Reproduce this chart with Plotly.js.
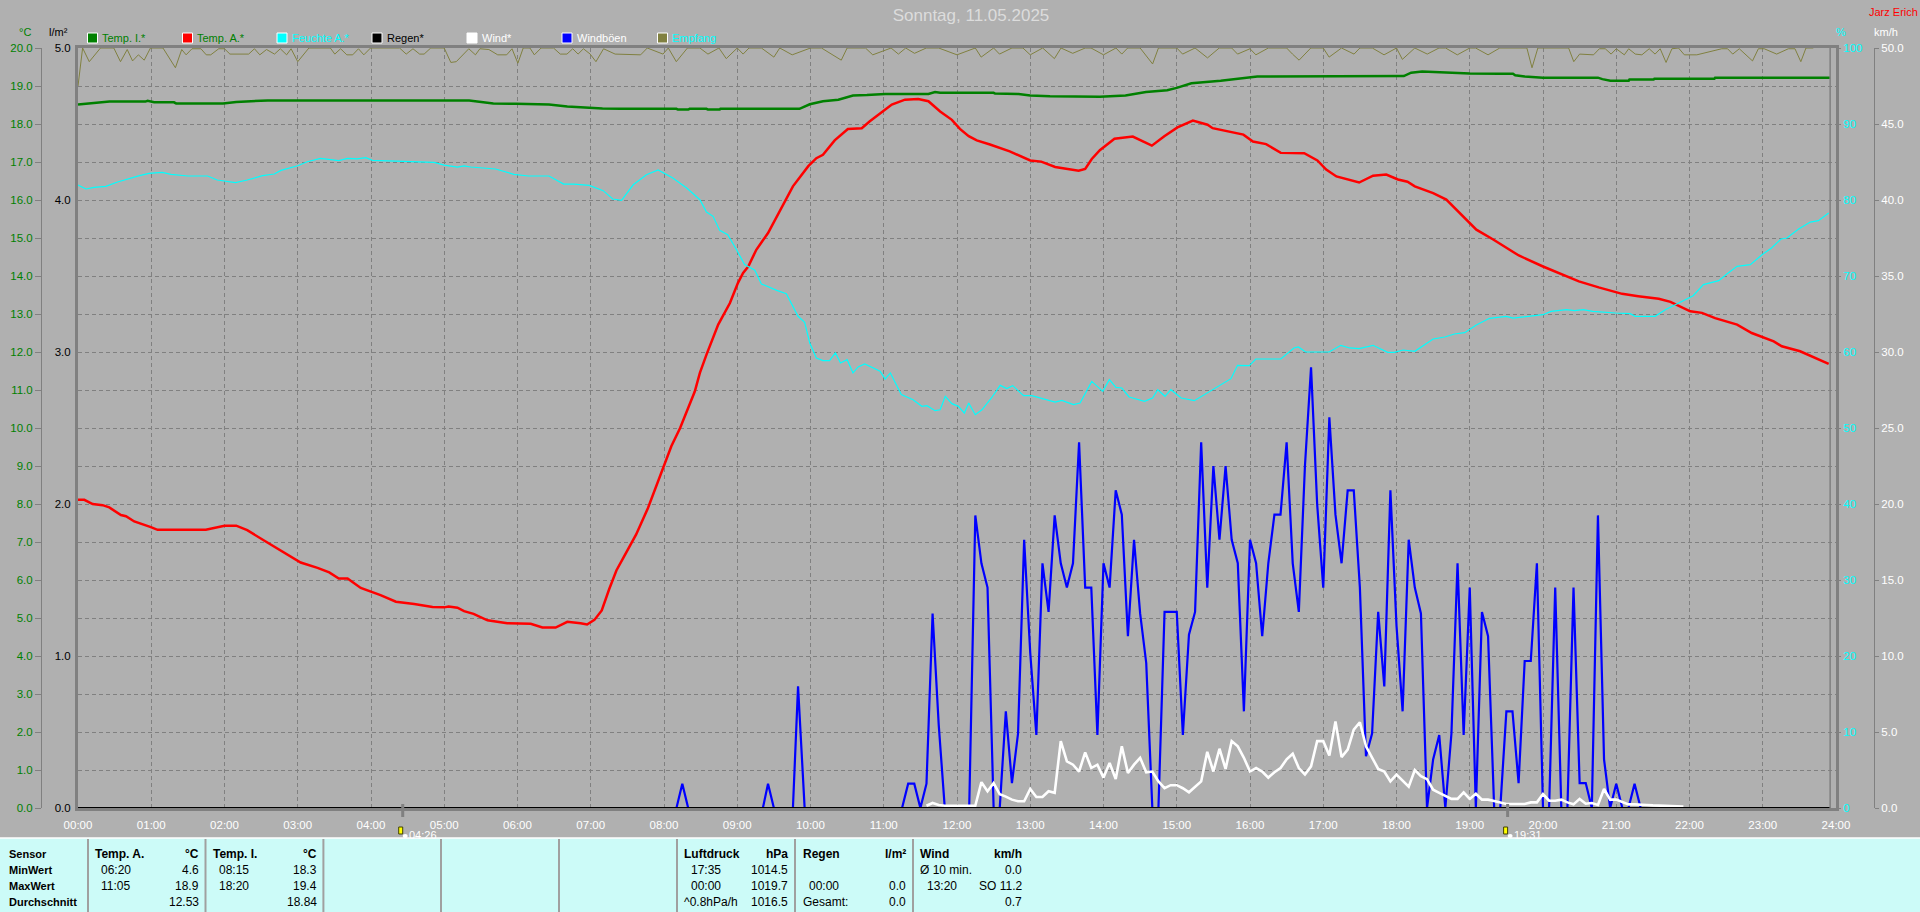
<!DOCTYPE html>
<html><head><meta charset="utf-8">
<script src="https://cdn.plot.ly/plotly-3.0.1.min.js"></script>
<style>html,body{margin:0;padding:0;background:#b0b0b0;overflow:hidden}#c{width:1920px;height:912px}</style>
</head><body><div id="c"></div>
<script>
// ---------- DATA; hours since midnight ----------
const hourLabels = ["00:00","01:00","02:00","03:00","04:00","05:00","06:00","07:00","08:00","09:00","10:00","11:00","12:00","13:00","14:00","15:00","16:00","17:00","18:00","19:00","20:00","21:00","22:00","23:00","24:00"];

const tempIHours = [0,.09,.25,.43,.92,.95,1.04,1.31,1.34,1.98,2.16,2.59,5.34,5.49,5.67,5.98,6.43,6.68,6.86,7.16,7.4,8.17,8.19,8.33,8.35,8.58,8.6,8.76,8.77,9.85,9.99,10.17,10.38,10.58,10.77,11.02,11.61,11.7,11.77,12.5,12.52,12.84,13,13.27,13.95,14.3,14.58,14.87,15,15.2,15.6,15.9,16.1,18.1,18.2,18.35,18.7,19,19.4,19.59,19.62,19.75,20,20.75,20.81,20.92,21.17,21.18,21.51,21.52,22.34,22.35,23.92];
const tempIValues = [18.51,18.53,18.56,18.59,18.59,18.61,18.57,18.57,18.54,18.54,18.58,18.62,18.62,18.58,18.54,18.53,18.51,18.46,18.44,18.41,18.4,18.4,18.38,18.38,18.4,18.4,18.38,18.38,18.4,18.4,18.52,18.6,18.64,18.75,18.76,18.79,18.79,18.84,18.82,18.82,18.8,18.79,18.75,18.73,18.72,18.75,18.84,18.89,18.95,19.07,19.14,19.2,19.25,19.26,19.35,19.38,19.35,19.33,19.32,19.32,19.28,19.25,19.22,19.22,19.18,19.14,19.14,19.17,19.17,19.19,19.19,19.22,19.22];

const tempAHours = [0,.086,.2,.336,.427,.586,.655,.768,.995,1.086,1.745,1.88,2,2.16,2.31,2.54,2.77,2.88,3.04,3.27,3.43,3.56,3.68,3.86,4.13,4.34,4.59,4.84,5,5.06,5.18,5.27,5.4,5.59,5.86,6.18,6.34,6.52,6.68,6.86,6.95,7.05,7.15,7.25,7.35,7.45,7.62,7.78,7.9,8,8.1,8.22,8.31,8.42,8.49,8.58,8.74,8.9,9.01,9.08,9.15,9.26,9.42,9.58,9.76,9.97,10.08,10.17,10.33,10.51,10.7,10.81,10.99,11.11,11.29,11.47,11.61,11.77,11.93,12.04,12.16,12.27,12.45,12.56,12.72,13,13.15,13.34,13.5,13.66,13.75,13.84,13.95,14.15,14.4,14.66,14.83,15.01,15.22,15.42,15.49,15.76,15.91,16.04,16.22,16.42,16.74,16.92,17.04,17.18,17.49,17.68,17.86,18.02,18.15,18.25,18.5,18.68,18.84,19.09,19.32,19.67,20,20.21,20.49,20.76,21.08,21.3,21.58,21.74,22.01,22.17,22.35,22.65,22.85,23.15,23.26,23.51,23.71,23.9];
const tempAValues = [8.11,8.11,8,7.97,7.91,7.71,7.68,7.54,7.39,7.32,7.32,7.37,7.43,7.43,7.31,7.04,6.77,6.64,6.46,6.32,6.2,6.04,6.04,5.79,5.6,5.43,5.37,5.29,5.28,5.3,5.27,5.18,5.11,4.94,4.86,4.85,4.75,4.75,4.9,4.86,4.83,4.95,5.2,5.75,6.25,6.6,7.2,7.89,8.51,9.04,9.52,10,10.44,10.96,11.45,11.93,12.72,13.29,13.82,14.08,14.25,14.69,15.13,15.7,16.36,16.89,17.1,17.19,17.57,17.87,17.89,18.07,18.33,18.51,18.64,18.66,18.6,18.33,18.11,17.87,17.68,17.57,17.46,17.39,17.28,17.04,17.01,16.87,16.82,16.77,16.82,17.08,17.31,17.61,17.67,17.43,17.68,17.91,18.09,17.98,17.89,17.78,17.72,17.54,17.47,17.24,17.23,17.04,16.8,16.62,16.46,16.64,16.67,16.54,16.48,16.36,16.18,16.01,15.7,15.22,14.96,14.54,14.25,14.08,13.86,13.7,13.53,13.47,13.4,13.32,13.07,13.03,12.89,12.72,12.5,12.28,12.15,12.02,11.84,11.69];

const humidityHours = [0,.11,.22,.38,.54,.68,.84,.97,1.15,1.27,1.5,1.77,1.9,2.15,2.31,2.52,2.68,2.77,3,3.13,3.31,3.56,3.68,3.81,3.93,4.02,4.86,5,5.18,5.27,5.36,5.7,5.86,5.95,6.15,6.43,6.63,6.77,6.98,7.17,7.3,7.42,7.58,7.76,7.92,8.12,8.31,8.49,8.58,8.67,8.76,8.87,8.99,9.1,9.24,9.33,9.54,9.67,9.83,9.92,9.99,10.08,10.17,10.26,10.34,10.41,10.5,10.58,10.65,10.74,10.95,11.02,11.09,11.24,11.4,11.52,11.59,11.7,11.77,11.84,11.93,12.02,12.1,12.16,12.25,12.34,12.47,12.59,12.68,12.76,12.91,13.02,13.34,13.43,13.59,13.68,13.84,13.99,14.08,14.17,14.25,14.35,14.56,14.67,14.74,14.84,14.92,15.06,15.24,15.45,15.74,15.83,15.99,16.08,16.42,16.6,16.66,16.76,17.08,17.24,17.36,17.49,17.68,17.88,17.97,18.09,18.25,18.5,18.66,18.79,18.93,19.09,19.27,19.5,19.59,20,20.11,20.32,20.43,20.55,20.68,20.99,21.19,21.26,21.53,21.67,21.76,22.05,22.19,22.4,22.51,22.65,22.83,22.99,23.12,23.25,23.33,23.49,23.65,23.76,23.9];
const humidityValues = [81.97,81.45,81.67,81.8,82.37,82.8,83.2,83.5,83.64,83.38,83.16,83.16,82.63,82.28,82.63,83.2,83.42,83.9,84.5,85.04,85.48,85.18,85.48,85.4,85.57,85.22,84.96,84.6,84.34,84.5,84.34,84.08,83.64,83.38,83.16,83.16,82.1,82.1,81.93,81.23,80.13,79.96,82,83.33,83.95,82.9,81.58,80.04,78.42,77.85,76,75.44,73.46,71.5,70.75,68.95,68.11,67.68,64.7,63.9,61.18,59.2,58.86,58.86,59.87,58.55,58.99,57.24,58.03,58.42,57.46,56.45,57.24,54.39,53.73,52.85,52.94,52.28,52.4,54.17,53.2,52.85,51.97,53.29,51.75,52.4,53.95,55.61,55.18,55.57,54.25,54.25,53.42,53.64,53.07,53.29,56.14,54.82,56.36,55.35,55.26,54.08,53.51,53.95,55.04,54.17,55.04,53.95,53.6,54.82,56.49,58.25,58.2,59.08,59.08,60.53,60.66,60,60,60.88,60.53,60.44,60.88,59.96,59.96,60.26,60.09,61.71,61.97,62.37,62.54,63.55,64.43,64.69,64.47,64.91,65.35,65.57,65.44,65.57,65.35,65.13,65.04,64.69,64.69,65.57,66,67.41,68.86,69.39,70.26,71.27,71.49,72.8,73.68,74.87,75,76.18,77.1,77.28,78.29];

const receptionHours = [0,.063,.154,.307,.489,.58,.672,.745,.824,.904,.989,1.16,1.33,1.416,1.476,1.556,1.678,1.751,1.812,1.921,2,2.074,2.33,2.409,2.482,2.574,2.683,2.762,2.848,2.909,3,3.152,3.445,3.506,3.585,3.67,3.75,3.829,3.902,3.994,4.39,4.481,4.573,4.664,4.725,4.816,4.999,5.09,5.164,5.335,5.426,5.487,5.609,5.73,5.852,5.925,6.005,6.078,6.17,6.23,6.322,6.492,6.584,6.675,6.754,6.827,6.9,6.992,7.071,7.175,7.333,7.559,7.681,7.772,7.986,8.059,8.168,8.32,8.49,8.6,8.75,8.85,9,9.08,9.16,9.33,9.5,9.58,9.75,10,10.15,10.42,10.5,10.75,10.85,11.1,11.2,11.3,11.42,11.58,11.75,12,12.25,12.33,12.5,12.58,12.75,12.9,13,13.17,13.33,13.42,13.58,13.75,13.83,14,14.17,14.25,14.33,14.5,14.67,14.75,15,15.08,15.25,15.42,15.58,15.75,15.83,16,16.08,16.25,16.5,16.58,16.67,16.83,17,17.08,17.25,17.42,17.5,17.67,17.83,18,18.08,18.25,18.42,18.58,18.67,18.83,19,19.08,19.25,19.41,19.78,19.85,19.93,20.35,20.42,20.5,20.69,20.77,20.85,20.93,21,21.11,21.17,21.26,21.35,21.45,21.53,21.6,21.68,21.76,21.85,21.93,22.1,22.44,22.52,22.59,22.68,22.86,22.94,23.02,23.19,23.35,23.44,23.52,23.59,23.69,23.77,23.86,23.94];
const receptionValues = [95,100,98.2,100,100,98.2,99.8,98.3,99.1,98.4,100,100,97.4,99.8,99.1,99.9,99.9,99.1,99.1,99.9,99.9,99.2,99.2,99.9,99.1,99.8,99.2,99.9,99.1,99.9,98.2,100,100,99.2,99.9,99.1,99.1,99.9,99.1,100,100,99.2,99.9,99.2,99.2,100,100,98.1,98.2,99.9,99.1,99.9,99.8,99.1,99.1,99.9,98,100,100,99.1,100,100,99.2,99.2,99.9,99.2,99.9,99.2,98.2,99.9,99.2,99.1,99.1,100,99.2,100,98.2,100,100,99.2,100,98.6,100,99.2,100,100,98.8,100,99.1,100,100,98.4,100,100,99.1,100,99.2,100,99.3,100,100,99.1,100,98.8,100,99.2,100,100,99.1,100,98.6,100,99.3,100,100,99.1,100,99.2,100,100,97.9,100,100,99.2,100,98.7,100,100,99.2,99.9,99.1,100,100,99.2,98.4,100,100,98.8,100,99.2,100,100,99.1,100,98.5,100,99.2,100,100,99.1,100,100,99.1,100,100,97.4,100,100,98.2,99.2,99.1,99.9,99.9,99.2,99.9,99.1,99.9,99.2,99.1,99.9,99.2,99.9,98.1,99.9,100,99.1,99.1,99.9,99.9,99.2,99.9,98.3,99.9,99.9,99.2,99.9,99.9,98.2,100,100];

const gustEarlyHours = [0,8.17,8.25,8.33,9.35,9.42,9.5,9.76,9.83,9.92];
const gustEarlyValues = [0,0,1.6,0,0,1.6,0,0,8,0];
// one value per 5 minutes, first one at 11:15
const gustValues = [0,1.6,1.6,0,1.6,12.8,5.5,0,0,0,0,0,19.25,16.1,14.5,0,0,6.36,1.64,4.9,17.65,10.2,4.8,16.1,12.9,19.25,16.1,14.5,16.1,24.06,14.5,14.5,4.8,16.1,14.5,20.9,19.3,11.3,17.65,12.8,9.54,0,0,12.9,12.9,12.9,4.8,11.4,12.9,24.06,14.5,22.5,17.65,22.5,17.65,16.1,6.36,17.65,16.1,11.3,16.1,19.3,19.3,24.06,16.1,12.9,22.5,29,20,14.5,25.7,19.3,16.1,20.9,20.9,14.5,3.4,4.9,12.9,8,20.9,12,6.36,17.65,14.5,12.8,0,3.2,4.8,0,4.9,16.1,4.8,14.5,0,12.9,11.3,0,0,6.36,6.36,1.64,9.67,9.67,16.1,0,0,14.5,0,0,14.5,1.64,1.64,0,19.25,3.2,0,1.6,0,0,1.6,0,0];
// one value per 5 minutes, first one at 11:35
const windValues = [.15,.33,.2,.15,.15,.15,.15,.15,.15,1.7,1.1,1.64,.9,.75,.55,.44,.44,1.25,.72,.72,1.1,1,4.4,3.07,2.85,2.4,3.66,2.63,2.85,2,2.96,1.9,4.06,2.3,2.85,3.3,2.35,2.4,1.75,1.3,1.5,1.5,1.3,1.03,1.4,1.75,3.7,2.4,3.9,2.57,4.4,4.06,3.3,2.4,2.63,2.4,2,2.35,2.63,3.2,3.57,2.63,2.2,2.74,4.4,4.4,3.45,5.7,3.35,3.84,5.15,5.64,4.06,3.3,2.57,2.4,1.75,2.2,1.8,1.4,2.5,2.1,1.9,1.2,1,.8,.6,.6,1.03,.6,.94,.55,.55,.46,.37,.26,.26,.26,.26,.37,.37,.92,.48,.48,.55,.37,.24,.6,.28,.33,.2,1.25,.55,.55,.37,.24,.24,.24,.2,.17,.15,.12,.1,.1,.1];

const rainHours = [0,23.92];
const rainValues = [0,0];

const sensorLabels = ["Sensor","MinWert","MaxWert","Durchschnitt"];
const legendNames = ["Temp. I.*","Temp. A.*","Feuchte A.*","Regen*","Wind*","Windböen","Empfang"];
const sunTimes = [4.433,19.517];
const sunLabels = ["04:26","19:31"];

// ---------- COLOURS ----------
const BG="#b0b0b0",GRID="#808080",GREEN="#008000",RED="#ff0000",CYAN="#00ffff",BLUE="#0000ff",OLIVE="#808040",WHITE="#ffffff";
const legendFill=[GREEN,RED,CYAN,"#000000",WHITE,BLUE,OLIVE];
const legendText=[GREEN,GREEN,CYAN,"#000000",WHITE,WHITE,CYAN];
const FONT="Liberation Sans, Arial, sans-serif";

// ---------- pixel helpers (paper coordinates) ----------
const px=x=>x/1920, py=y=>(808-y)/760;
const annotations=[], shapes=[];
function txt(x,y,text,color,anchor,size,bold){annotations.push({xref:"paper",yref:"paper",x:px(x),y:py(y),text:bold?"<b>"+text+"</b>":text,showarrow:false,xanchor:anchor||"left",yanchor:"middle",borderpad:0,borderwidth:0,font:{family:FONT,size:size||12,color:color||"#000"}});}
function rect(x0,y0,x1,y1,fill,line,lw){shapes.push({type:"rect",xref:"paper",yref:"paper",x0:px(x0),x1:px(x1),y0:py(y0),y1:py(y1),fillcolor:fill,line:{color:line||fill,width:line?(lw||1):0},layer:"above"});}

// page texts
txt(1869,12,"Jarz Erich",RED,"left",11);
txt(25,32,"°C",GREEN,"center",11);
txt(58,32,"l/m²","#000","center",11);
txt(1841,32,"%",CYAN,"center",11);
txt(1886,32,"km/h",WHITE,"center",11);

// legend
const legendX=[87.5,182.5,277,372,467,562,657.5];
legendNames.forEach((n,i)=>{rect(legendX[i],33,legendX[i]+10,43,legendFill[i],WHITE,1);txt(legendX[i]+14.5,38,n,legendText[i],"left",11);});

// bottom table
rect(0,838,1920,912,"#ccfbf8");
shapes.push({type:"line",xref:"paper",yref:"paper",x0:0,x1:1,y0:py(838),y1:py(838),line:{color:"#ffffff",width:1.5},layer:"above"});
[88,205.5,323.4,441,559,677,795,913].forEach(x=>shapes.push({type:"line",xref:"paper",yref:"paper",x0:px(x),x1:px(x),y0:py(839),y1:py(912),line:{color:"#a0a0a0",width:2},layer:"above"}));
const rowY=[854,870,886,902];
sensorLabels.forEach((s,i)=>txt(8.5,rowY[i],s,"#000","left",11,true));
txt(95,rowY[0],"Temp. A.","#000","left",12,true); txt(198.6,rowY[0],"°C","#000","right",12,true);
[["06:20","4.6"],["11:05","18.9"],["","12.53"]].forEach((r,i)=>{txt(100.6,rowY[i+1],r[0]);txt(198.6,rowY[i+1],r[1],"#000","right");});
txt(212.8,rowY[0],"Temp. I.","#000","left",12,true); txt(316.5,rowY[0],"°C","#000","right",12,true);
[["08:15","18.3"],["18:20","19.4"],["","18.84"]].forEach((r,i)=>{txt(218.5,rowY[i+1],r[0]);txt(316.5,rowY[i+1],r[1],"#000","right");});
txt(684,rowY[0],"Luftdruck","#000","left",12,true); txt(788,rowY[0],"hPa","#000","right",12,true);
txt(690.7,rowY[1],"17:35");txt(788,rowY[1],"1014.5","#000","right");
txt(690.7,rowY[2],"00:00");txt(788,rowY[2],"1019.7","#000","right");
txt(684,rowY[3],"^0.8hPa/h");txt(788,rowY[3],"1016.5","#000","right");
txt(802.7,rowY[0],"Regen","#000","left",12,true); txt(905.7,rowY[0],"l/m²","#000","right",12,true);
txt(808.7,rowY[2],"00:00");txt(905.7,rowY[2],"0.0","#000","right");
txt(802.7,rowY[3],"Gesamt:");txt(905.7,rowY[3],"0.0","#000","right");
txt(920.3,rowY[0],"Wind","#000","left",12,true); txt(1021.7,rowY[0],"km/h","#000","right",12,true);
txt(920.3,rowY[1],"Ø 10 min.");txt(1021.7,rowY[1],"0.0","#000","right");
txt(926.7,rowY[2],"13:20");txt(1021.7,rowY[2],"SO 11.2","#000","right");
txt(1021.7,rowY[3],"0.7","#000","right");

// sunrise / sunset markers
sunTimes.forEach((t,i)=>{
  const xp=78+t*73.25;
  shapes.push({type:"line",xref:"x",yref:"paper",x0:t,x1:t,y0:py(804),y1:py(817),line:{color:GRID,width:3},layer:"above"});
  rect(xp-4,827,xp+0,834,"#ffff00","#404000",1);
  shapes.push({type:"circle",xref:"paper",yref:"paper",x0:px(xp),x1:px(xp+5),y0:py(834),y1:py(838),fillcolor:WHITE,line:{width:0},layer:"above"});
  txt(xp+6.5,835.5,sunLabels[i],WHITE,"left",11);
});

// ---------- TRACES ----------
const grid5=(start,n)=>Array.from({length:n},(_,i)=>start+i/12);
const gustHours=gustEarlyHours.concat(grid5(11.25,gustValues.length));
const gustAll=gustEarlyValues.concat(gustValues);
const windHours=grid5(11+35/60,windValues.length);
const line=(x,y,name,color,width,yaxis,extra)=>Object.assign({type:"scatter",mode:"lines",x,y,name,yaxis,line:{color,width,shape:"linear"},hoverinfo:"skip",showlegend:false},extra||{});
const data=[
  line(tempIHours,tempIValues,"Temp. I.*",GREEN,2.5,"y"),
  line(tempAHours,tempAValues,"Temp. A.*",RED,2.5,"y2"),
  line(humidityHours,humidityValues,"Feuchte A.*",CYAN,1.2,"y3"),
  line(receptionHours,receptionValues,"Empfang",OLIVE,1,"y3"),
  line(gustHours,gustAll,"Windböen",BLUE,2.2,"y4"),
  line(windHours,windValues,"Wind*",WHITE,2.6,"y4"),
  line(rainHours,rainValues,"Regen*","#000000",2,"y5",{cliponaxis:false})
];

// ---------- LAYOUT ----------
const dom=[78/1920,1836/1920];
const labelAxis=(o)=>Object.assign({range:[0,20],fixedrange:true,showgrid:false,zeroline:false,tickformat:".1f",showline:false},o);
const layout={
  width:1920,height:912,paper_bgcolor:BG,plot_bgcolor:BG,showlegend:false,
  margin:{l:0,r:0,t:48,b:104,pad:0},
  title:{text:"Sonntag, 11.05.2025",x:971/1920,xanchor:"center",y:1-15/912,yanchor:"middle",font:{family:FONT,size:17,color:"#dcdcdc"}},
  xaxis:{domain:dom,range:[0,24],tickmode:"array",tickvals:hourLabels.map((_,i)=>i),ticktext:hourLabels,showgrid:true,gridcolor:GRID,griddash:"4px,3px",gridwidth:1,
    zeroline:false,showline:true,linecolor:GRID,linewidth:3,mirror:true,ticks:"outside",ticklen:4,tickcolor:BG,tickfont:{family:FONT,size:11.5,color:WHITE},fixedrange:true},
  yaxis:{range:[0,20],dtick:1,showgrid:true,gridcolor:GRID,griddash:"4px,3px",gridwidth:1,zeroline:false,showline:true,linecolor:GRID,linewidth:3,mirror:true,showticklabels:false,ticks:"",fixedrange:true},
  yaxis2:labelAxis({overlaying:"y",anchor:"free",position:41/1920,side:"left",dtick:1,showline:true,linecolor:GRID,linewidth:1,ticks:"outside",ticklen:6,tickcolor:GRID,tickfont:{family:FONT,size:11.5,color:GREEN}}),
  yaxis3:labelAxis({overlaying:"y",anchor:"x",side:"right",range:[0,100],dtick:10,tickformat:"d",ticks:"outside",ticklen:4,tickcolor:GRID,tickfont:{family:FONT,size:11.5,color:CYAN}}),
  yaxis4:labelAxis({overlaying:"y",anchor:"free",position:1874/1920,side:"right",range:[0,50],dtick:5,showline:true,linecolor:GRID,linewidth:1,ticks:"outside",ticklen:4,tickcolor:GRID,tickfont:{family:FONT,size:11.5,color:WHITE}}),
  yaxis5:labelAxis({overlaying:"y",anchor:"x",side:"left",range:[0,5],dtick:1,ticks:"outside",ticklen:4,tickcolor:"rgba(0,0,0,0)",tickfont:{family:FONT,size:11.5,color:"#000"}}),
  annotations,
  shapes:shapes.concat([{type:"line",xref:"x",yref:"paper",x0:23.92,x1:23.92,y0:0,y1:1,line:{color:GRID,width:1.5},layer:"above"}])
};
Plotly.newPlot("c",data,layout,{staticPlot:true,displayModeBar:false});
</script></body></html>
